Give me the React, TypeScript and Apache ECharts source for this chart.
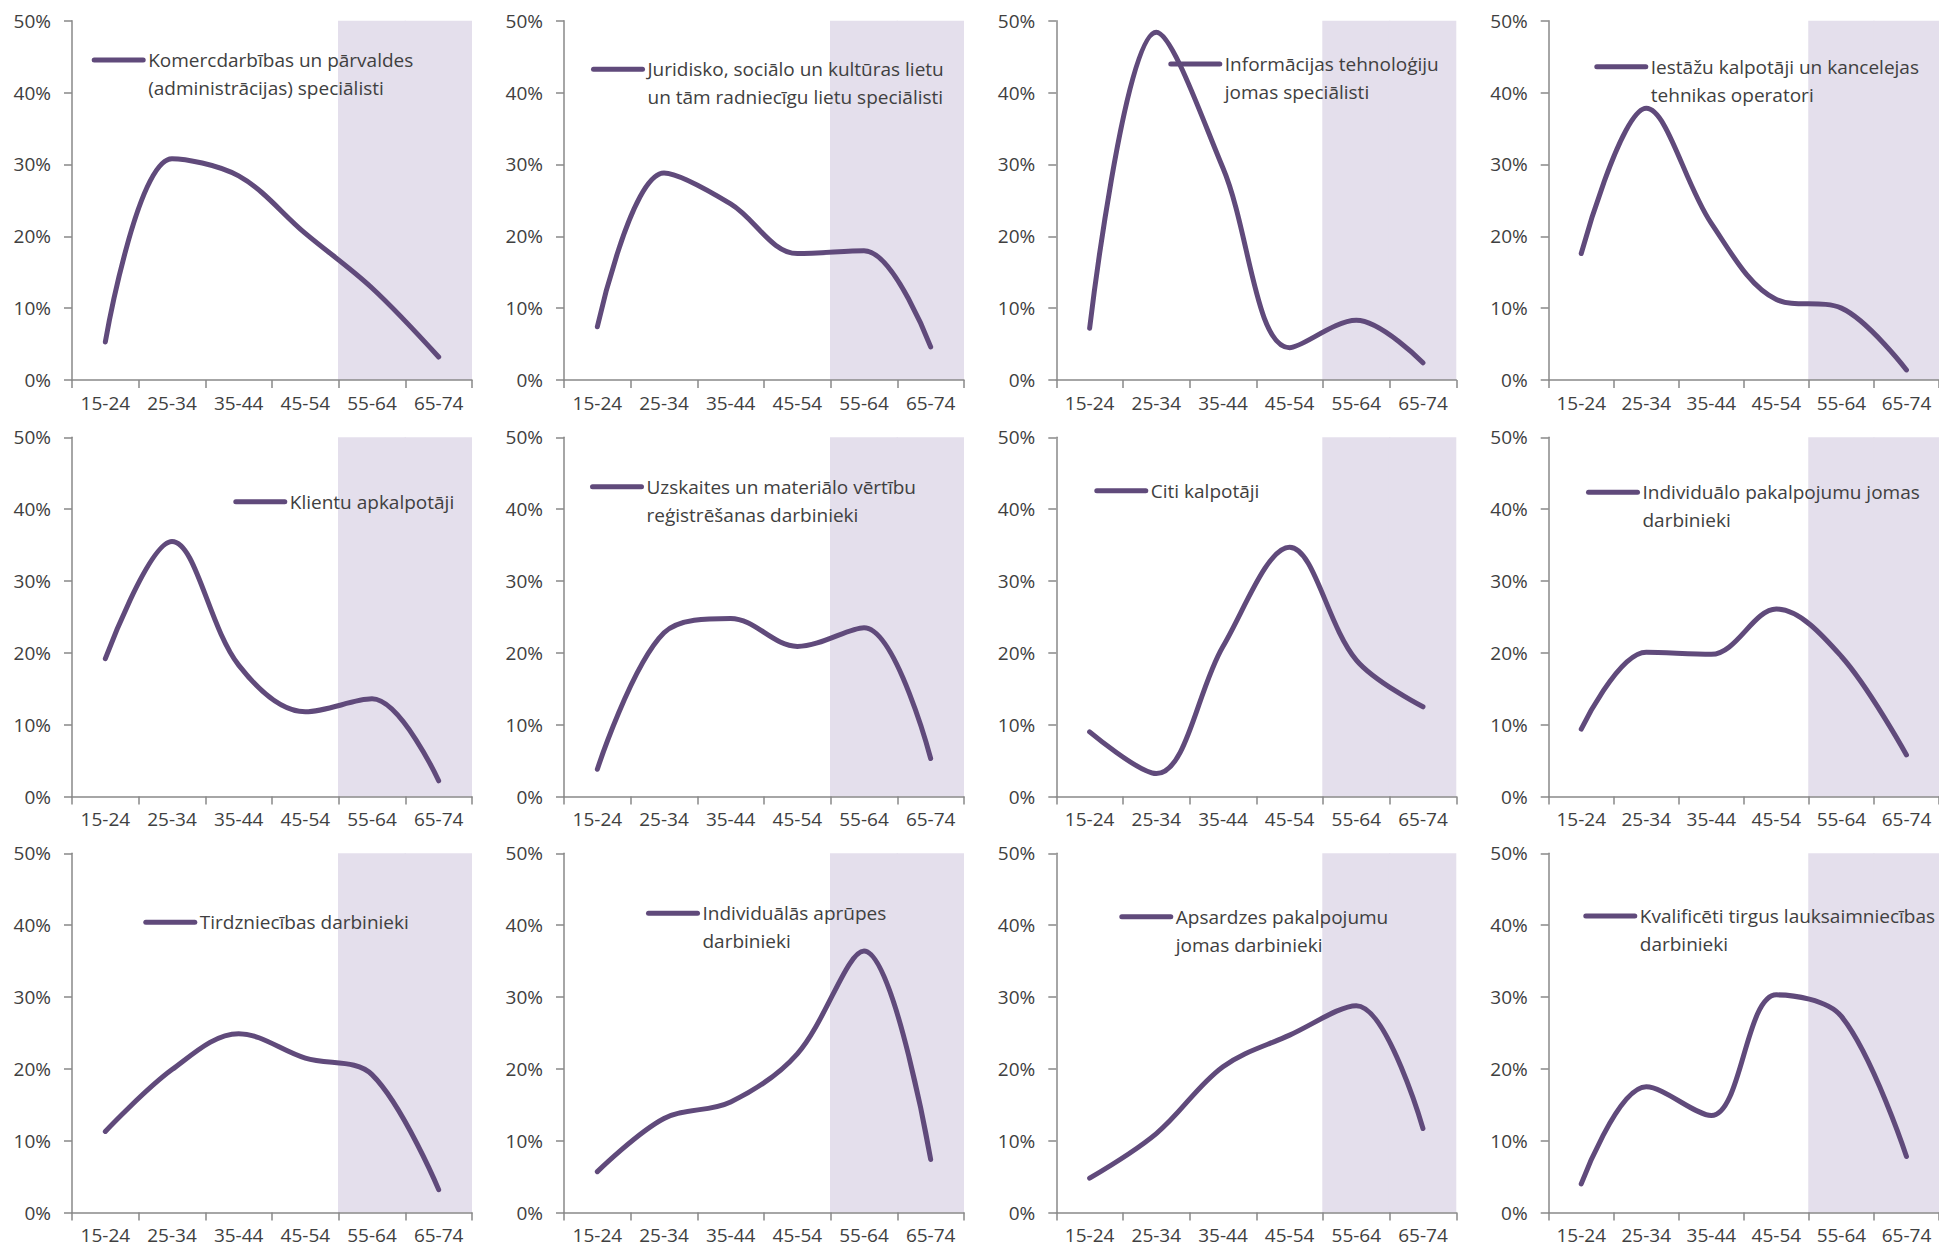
import React, { useEffect, useRef } from 'react';
import * as echarts from 'echarts';

// ---------- data ----------
const ageGroups = ['15-24', '25-34', '35-44', '45-54', '55-64', '65-74'];
const shadedAgeGroups = ['55-64', '65-74'];
const yMin = 0;
const yMax = 50;
const yStep = 10;

const occupations = [
  'Komercdarbības un pārvaldes\n(administrācijas) speciālisti',
  'Juridisko, sociālo un kultūras lietu\nun tām radniecīgu lietu speciālisti',
  'Informācijas tehnoloģiju\njomas speciālisti',
  'Iestāžu kalpotāji un kancelejas\ntehnikas operatori',
  'Klientu apkalpotāji',
  'Uzskaites un materiālo vērtību\nreģistrēšanas darbinieki',
  'Citi kalpotāji',
  'Individuālo pakalpojumu jomas\ndarbinieki',
  'Tirdzniecības darbinieki',
  'Individuālās aprūpes\ndarbinieki',
  'Apsardzes pakalpojumu\njomas darbinieki',
  'Kvalificēti tirgus lauksaimniecības\ndarbinieki',
];

const komercdarbibasSpecialisti = [5.3, 30.8, 28.4, 20.4, 12.8, 3.2];
const juridiskoSpecialisti = [7.4, 28.8, 24.5, 17.6, 18.0, 4.6];
const itSpecialisti = [7.2, 48.4, 29.5, 4.5, 8.3, 2.4];
const iestazuKalpotaji = [17.6, 37.8, 21.8, 11.2, 10.0, 1.4];
const klientuApkalpotaji = [19.2, 35.5, 18.3, 11.8, 13.6, 2.2];
const uzskaitesDarbinieki = [3.8, 22.8, 24.8, 20.9, 23.5, 5.3];
const citiKalpotaji = [9.0, 3.2, 20.9, 34.7, 19.0, 12.5];
const individualoPakalpojumuDarbinieki = [9.4, 20.1, 19.8, 26.1, 19.5, 5.8];
const tirdzniecibasDarbinieki = [11.3, 19.9, 24.9, 21.5, 19.2, 3.2];
const individualasAprupesDarbinieki = [5.7, 13.1, 15.4, 22.1, 36.4, 7.4];
const apsardzesDarbinieki = [4.8, 11.0, 20.3, 24.7, 28.8, 11.7];
const lauksaimniecibasDarbinieki = [4.0, 17.5, 13.5, 30.3, 27.3, 7.8];

const seriesValues = [
  komercdarbibasSpecialisti,
  juridiskoSpecialisti,
  itSpecialisti,
  iestazuKalpotaji,
  klientuApkalpotaji,
  uzskaitesDarbinieki,
  citiKalpotaji,
  individualoPakalpojumuDarbinieki,
  tirdzniecibasDarbinieki,
  individualasAprupesDarbinieki,
  apsardzesDarbinieki,
  lauksaimniecibasDarbinieki,
];

// ---------- layout / style ----------
const gridLefts = [72, 564, 1056.3, 1548.7];
const gridTops = [20.7, 437.3, 853.3];
const gridWidth = 400;
const gridHeight = 359.3;

// visible icon left x, icon centre y
const legendAnchors = [
  [91.7, 60], [591, 69.3], [1168.3, 64], [1594.3, 66.7],
  [233.3, 501.7], [590, 486.7], [1094.3, 490.7], [1586, 492.3],
  [143.3, 922.3], [646, 913.3], [1119.3, 916.7], [1583.3, 916],
];

const FONT = "'Open Sans', 'Noto Sans', sans-serif";
const TEXT_COLOR = '#404040';
const AXIS_COLOR = '#898989';
const LINE_COLOR = '#604a7b';
const SHADE_COLOR = '#e4dfec';
const LINE_HEIGHT = 28;

function buildOption() {
  const grid: any[] = [];
  const xAxis: any[] = [];
  const yAxis: any[] = [];
  const series: any[] = [];
  const legend: any[] = [];

  occupations.forEach((name, i) => {
    const r = Math.floor(i / 4);
    const c = i % 4;
    grid.push({ left: gridLefts[c], top: gridTops[r], width: gridWidth, height: gridHeight });
    xAxis.push({
      type: 'category',
      gridIndex: i,
      data: ageGroups,
      boundaryGap: true,
      z: 5,
      axisLine: { show: true, lineStyle: { color: AXIS_COLOR, width: 1.5 } },
      axisTick: { show: true, length: 8, interval: 0, alignWithLabel: false, lineStyle: { color: AXIS_COLOR, width: 1.5 } },
      axisLabel: { interval: 0, margin: 13, color: TEXT_COLOR, fontSize: 19, fontFamily: FONT },
      splitLine: { show: false },
    });
    yAxis.push({
      type: 'value',
      gridIndex: i,
      min: yMin,
      max: yMax,
      interval: yStep,
      z: 5,
      axisLine: { show: true, lineStyle: { color: AXIS_COLOR, width: 1.5 } },
      axisTick: { show: true, length: 8, lineStyle: { color: AXIS_COLOR, width: 1.5 } },
      axisLabel: { formatter: '{value}%', margin: 21, color: TEXT_COLOR, fontSize: 19, fontFamily: FONT },
      splitLine: { show: false },
    });
    series.push({
      type: 'bar',
      name: 'shade-' + i,
      xAxisIndex: i,
      yAxisIndex: i,
      data: ageGroups.map((g) => (shadedAgeGroups.includes(g) ? yMax : '-')),
      barWidth: '102%',
      barCategoryGap: '0%',
      silent: true,
      z: 1,
      itemStyle: { color: SHADE_COLOR },
    });
    series.push({
      type: 'line',
      name,
      xAxisIndex: i,
      yAxisIndex: i,
      data: seriesValues[i],
      smooth: 0.35,
      symbol: 'none',
      z: 3,
      lineStyle: { color: LINE_COLOR, width: 5, cap: 'round', join: 'round' },
      itemStyle: { color: LINE_COLOR },
    });
    const twoLines = name.includes('\n');
    const [ax, ay] = legendAnchors[i];
    legend.push({
      data: [name],
      left: ax,
      top: ay - (twoLines ? 1.5 * LINE_HEIGHT : 0.5 * LINE_HEIGHT),
      padding: 0,
      itemWidth: 49,
      itemHeight: 14,
      selectedMode: false,
      formatter: (n: string) => (n.includes('\n') ? '\n' + n : n),
      lineStyle: { width: 5, cap: 'round', color: LINE_COLOR },
      itemStyle: { opacity: 0, color: 'rgba(0,0,0,0)', borderWidth: 0 },
      textStyle: { fontSize: 19, lineHeight: LINE_HEIGHT, color: TEXT_COLOR, fontFamily: FONT },
    });
  });

  return { animation: false, backgroundColor: '#ffffff', grid, xAxis, yAxis, series, legend };
}

export default function App() {
  const ref = useRef<HTMLDivElement>(null);
  useEffect(() => {
    if (!ref.current) return;
    const chart = echarts.init(ref.current, undefined, { renderer: 'svg' });
    chart.setOption(buildOption() as any);
    return () => chart.dispose();
  }, []);
  return (
    <div
      ref={ref}
      style={{ position: 'fixed', left: 0, top: 0, width: 1939, height: 1246, background: '#fff' }}
    />
  );
}
